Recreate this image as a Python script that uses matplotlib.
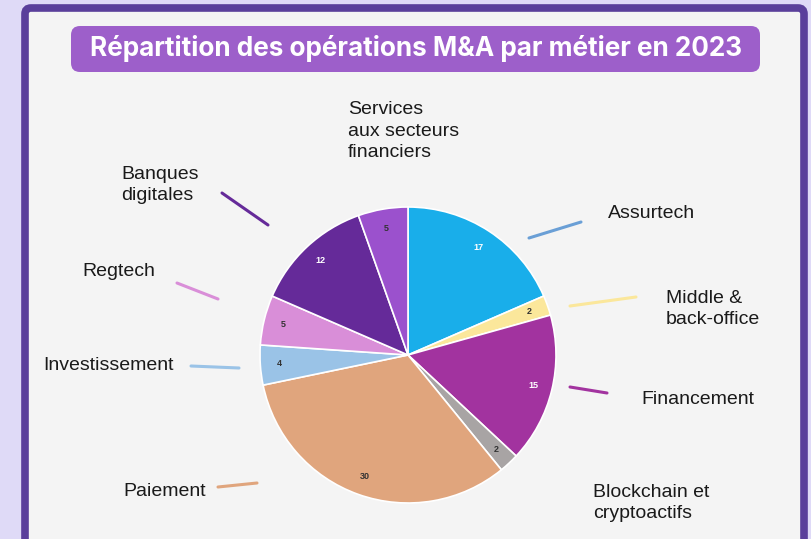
import matplotlib
matplotlib.use('Agg')
import matplotlib.pyplot as plt
from matplotlib.patches import FancyBboxPatch

# ==================== données ====================
categories = ['Assurtech', 'Middle &\nback-office', 'Financement', 'Blockchain et\ncryptoactifs',
              'Paiement', 'Investissement', 'Regtech', 'Banques\ndigitales',
              'Services\naux secteurs\nfinanciers']
values = [17, 2, 15, 2, 30, 4, 5, 12, 5]
colors = ['#19aeea', '#fbe79b', '#a2339f', '#a8a4a4', '#e0a57d',
          '#9ac3e7', '#d98ed8', '#652a99', '#9b51cd']
value_text_colors = ['white', '#333333', 'white', '#333333', '#333333',
                     '#333333', '#333333', 'white', '#333333']
title = 'Répartition des opérations M&A par métier en 2023'

# positions des étiquettes (pixels, origine en haut à gauche)
label_pos = [(608, 213), (666, 309), (641, 400), (593, 503), (123, 491),
             (43, 366), (82, 271), (121, 185), (348, 131)]
# petits traits de rappel (None = pas de trait)
leader_lines = [((529, 238), (581, 222)), ((570, 306), (636, 297)),
                ((570, 387), (607, 393)), None, ((218, 487), (257, 483)),
                ((191, 366), (239, 368)), ((177, 283), (218, 299)),
                ((222, 193), (268, 225)), None]
leader_colors = ['#6a9fd6', '#fbe79b', '#a2339f', None, '#e0a57d',
                 '#9ac3e7', '#d98ed8', '#652a99', None]

W, H = 812, 539
fig = plt.figure(figsize=(W / 100, H / 100), dpi=100)
fig.patch.set_facecolor('#dfdaf7')
ax = fig.add_axes([0, 0, 1, 1])


def Y(y):
    return H - y


# cadre
ax.add_patch(FancyBboxPatch((25, Y(560)), 779, 552, boxstyle='round,pad=0,rounding_size=6',
                            facecolor='#f4f4f4', edgecolor='#5a3f9b', linewidth=5.5, zorder=0))

# bandeau du titre
ax.add_patch(FancyBboxPatch((71, Y(72)), 689, 46, boxstyle='round,pad=0,rounding_size=9',
                            facecolor='#9d5fca', edgecolor='none', zorder=1))
ax.text(416, Y(49), title, ha='center', va='center', color='white',
        fontsize=18.8, fontweight='bold', family='Inter', zorder=2)

# camembert
total = sum(values)
wedges, texts, autotexts = ax.pie(
    values, colors=colors, startangle=90, counterclock=False,
    center=(408, Y(355)), radius=148, frame=True,
    autopct=lambda p: f'{round(p * total / 100)}', pctdistance=0.87,
    wedgeprops=dict(edgecolor='white', linewidth=1.2),
    textprops=dict(fontsize=6.5, fontweight='bold', family='Liberation Sans'))
for t, c in zip(autotexts, value_text_colors):
    t.set_color(c)

for lab, (x, y) in zip(categories, label_pos):
    ax.text(x, Y(y), lab, ha='left', va='center', fontsize=14, color='#1a1a1a',
            family='Liberation Sans', linespacing=1.32)

for seg, c in zip(leader_lines, leader_colors):
    if seg is None:
        continue
    (x0, y0), (x1, y1) = seg
    ax.plot([x0, x1], [Y(y0), Y(y1)], color=c, linewidth=2.2, solid_capstyle='round')

ax.set_xlim(0, W)
ax.set_ylim(0, H)
ax.set_aspect('equal')
ax.axis('off')

plt.savefig('out.png', dpi=100, facecolor=fig.get_facecolor())
